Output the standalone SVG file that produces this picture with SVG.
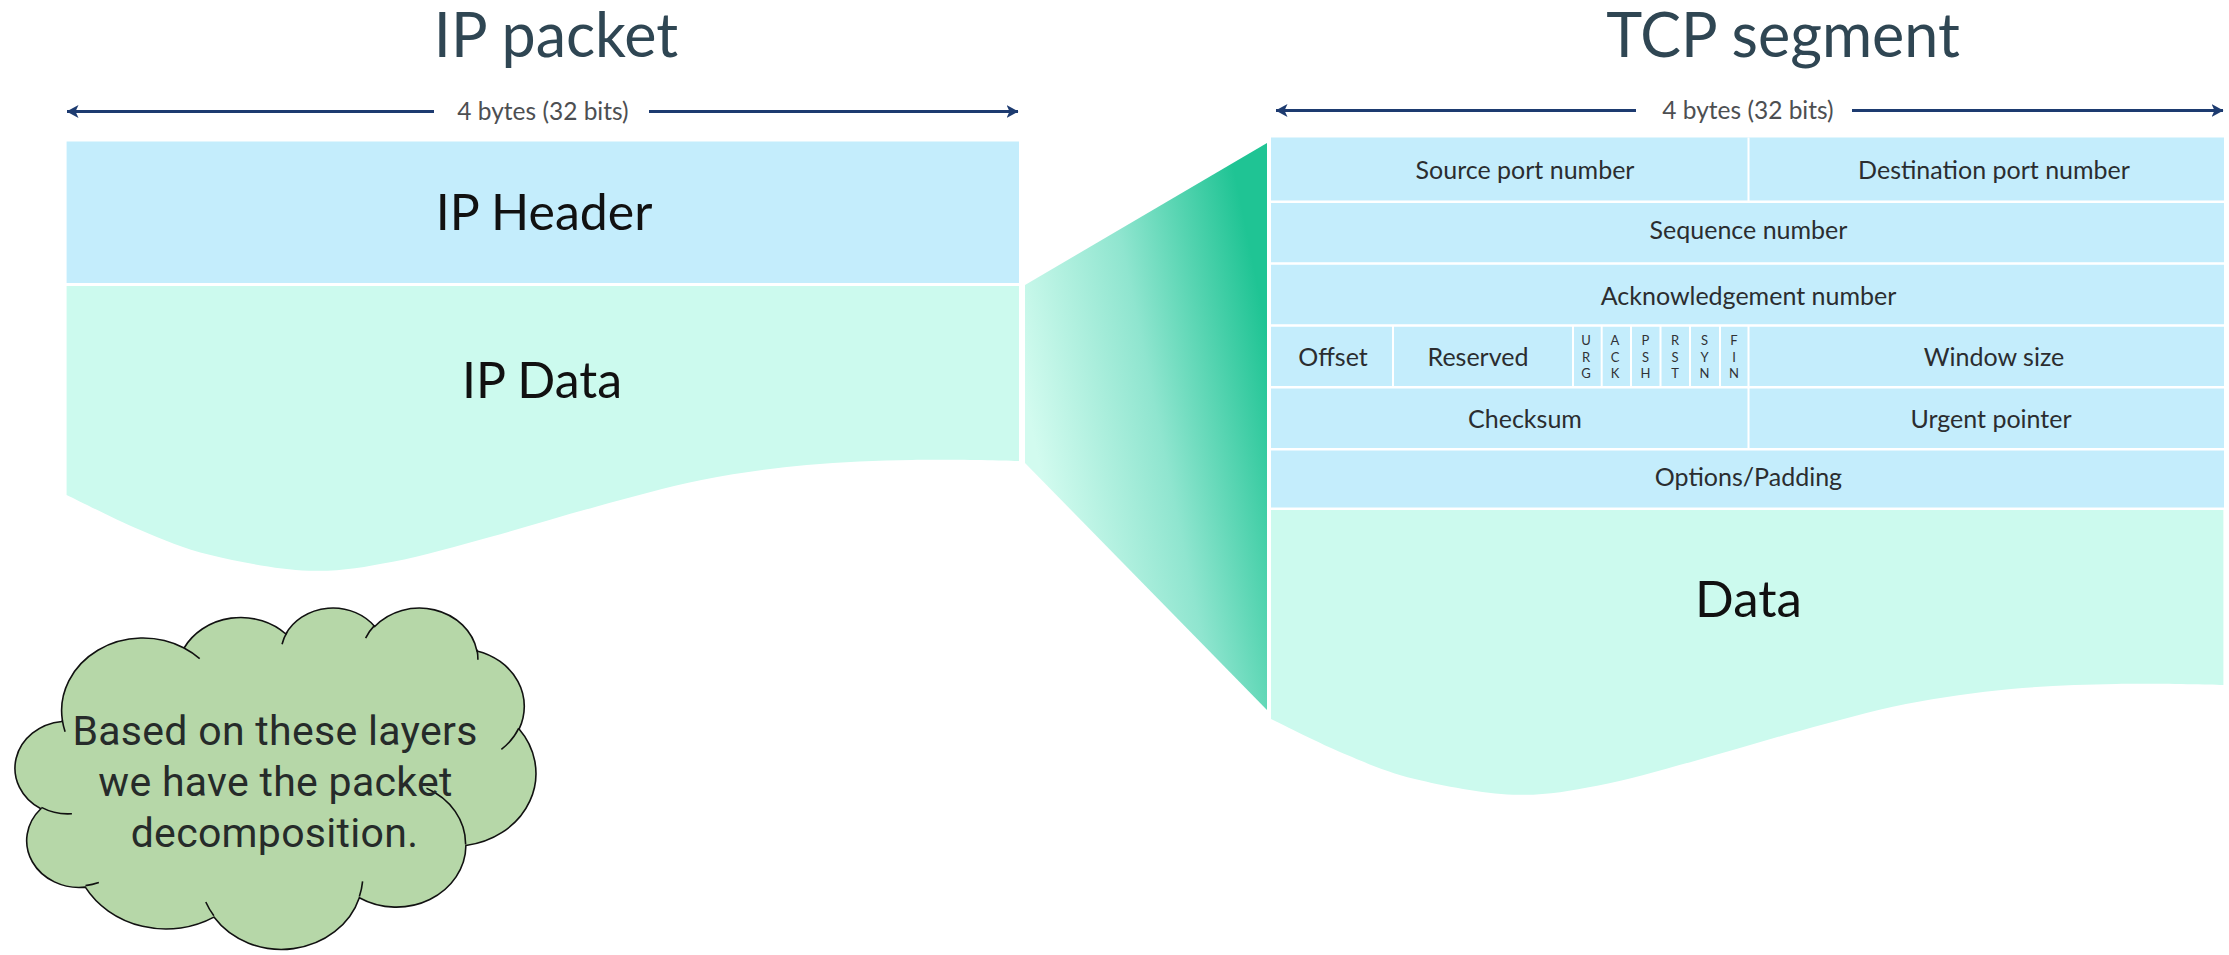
<svg xmlns="http://www.w3.org/2000/svg" width="2229" height="955" viewBox="0 0 2229 955">
  <defs>
    <style>
      .title { font-family: Lato, "Liberation Sans", sans-serif; font-size: 61px; fill: #2f4653; text-anchor: middle; }
      .dim { font-family: Lato, "Liberation Sans", sans-serif; font-size: 24.5px; fill: #4d4f52; text-anchor: middle; }
      .big { font-family: Lato, "Liberation Sans", sans-serif; font-size: 50px; fill: #111111; text-anchor: middle; }
      .field { font-family: Lato, "Liberation Sans", sans-serif; font-size: 25px; fill: #2b2d30; text-anchor: middle; }
      .flag { font-family: Lato, "Liberation Sans", sans-serif; font-size: 13px; fill: #303236; text-anchor: middle; }
      .note { font-family: Roboto, "Liberation Sans", sans-serif; font-size: 41px; letter-spacing: 0.3px; fill: #262b2a; text-anchor: middle; }
      .hdr { fill: #c4edfc; }
      .dat { fill: #ccfaee; }
      .sep { stroke: #ffffff; stroke-width: 2.5; fill: none; }
      .vsep { stroke: #ffffff; stroke-width: 2; fill: none; }
      .dimline { stroke: #1d3b70; stroke-width: 3; fill: none; }
    </style>
    <marker id="head" viewBox="0 0 12 13" refX="11.5" refY="6.5" markerWidth="12" markerHeight="13" markerUnits="userSpaceOnUse" orient="auto-start-reverse">
      <path d="M0,0 L12,6.5 L0,13 L3,6.5 Z" fill="#1d3b70"/>
    </marker>
    <linearGradient id="funnelFill" gradientUnits="userSpaceOnUse" x1="1030" y1="420" x2="1275" y2="370">
      <stop offset="0" stop-color="#d2fbef"/>
      <stop offset="0.5" stop-color="#8fe5cf"/>
      <stop offset="1" stop-color="#1fc494"/>
    </linearGradient>
    <!-- payload block with a torn, wavy lower edge (IP packet coordinates) -->
    <path id="wave" d="M66.6,286 L1019,286 L1019,461 C1001.2,460.8 947.4,459.3 912,460 C876.6,460.7 841.8,461.7 806.7,465 C771.6,468.3 736.6,473.05 701.5,480 C666.4,486.95 631.1,497.25 596,506.7 C560.9,516.15 524.9,527.53 491,536.7 C457.1,545.87 423.2,556.03 392.8,561.7 C362.4,567.37 339.1,571.8 308.7,570.7 C278.3,569.6 238.6,561.8 210.5,555 C182.4,548.2 164.3,540 140.3,530 C116.3,520 78.9,500.8 66.6,495 Z"/>
  </defs>

  <!-- titles -->
  <text class="title" x="556" y="57">IP packet</text>
  <text class="title" x="1783" y="57">TCP segment</text>

  <!-- width markers and the zoom funnel -->
  <g id="connectors">
    <line class="dimline" x1="67" y1="111.5" x2="434" y2="111.5" marker-start="url(#head)"/>
    <line class="dimline" x1="649" y1="111.5" x2="1018" y2="111.5" marker-end="url(#head)"/>
    <text class="dim" x="543" y="120">4 bytes (32 bits)</text>

    <line class="dimline" x1="1276" y1="110.5" x2="1636" y2="110.5" marker-start="url(#head)"/>
    <line class="dimline" x1="1852" y1="110.5" x2="2223" y2="110.5" marker-end="url(#head)"/>
    <text class="dim" x="1748" y="119">4 bytes (32 bits)</text>

    <path id="funnel" d="M1025,285 L1267,143 L1267,710 L1025,463 Z" fill="url(#funnelFill)"/>
  </g>

  <!-- IP packet -->
  <g id="ip-header">
    <rect class="hdr" x="66.6" y="141.5" width="952.4" height="141.5"/>
    <text class="big" x="544" y="230">IP Header</text>
  </g>
  <g id="ip-data">
    <use href="#wave" class="dat"/>
    <text class="big" x="542" y="398">IP Data</text>
  </g>

  <!-- TCP header -->
  <g id="tcp-header">
    <rect class="hdr" x="1271" y="137.5" width="953" height="370"/>
    <path class="sep" d="M1271,201.7 H2224 M1271,263.5 H2224 M1271,325.6 H2224 M1271,387.3 H2224 M1271,449.3 H2224"/>
    <path class="vsep" d="M1748.5,137.5 V201.7 M1748.5,387.3 V449.3 M1393,325.6 V387.3 M1573,325.6 V387.3 M1601.7,325.6 V387.3 M1631,325.6 V387.3 M1660.5,325.6 V387.3 M1690,325.6 V387.3 M1720,325.6 V387.3 M1748.5,325.6 V387.3"/>

    <text class="field" x="1525" y="179">Source port number</text>
    <text class="field" x="1994" y="179">Destination port number</text>
    <text class="field" x="1748.5" y="239">Sequence number</text>
    <text class="field" x="1748.5" y="305">Acknowledgement number</text>
    <text class="field" x="1333" y="366">Offset</text>
    <text class="field" x="1478" y="366">Reserved</text>
    <text class="field" x="1994" y="366">Window size</text>
    <text class="field" x="1525" y="428">Checksum</text>
    <text class="field" x="1991" y="428">Urgent pointer</text>
    <text class="field" x="1748.5" y="486">Options/Padding</text>

    <g class="flag">
      <text x="1586" y="344.5">U</text><text x="1586" y="361.5">R</text><text x="1586" y="378">G</text>
      <text x="1615" y="344.5">A</text><text x="1615" y="361.5">C</text><text x="1615" y="378">K</text>
      <text x="1645.5" y="344.5">P</text><text x="1645.5" y="361.5">S</text><text x="1645.5" y="378">H</text>
      <text x="1675" y="344.5">R</text><text x="1675" y="361.5">S</text><text x="1675" y="378">T</text>
      <text x="1704.5" y="344.5">S</text><text x="1704.5" y="361.5">Y</text><text x="1704.5" y="378">N</text>
      <text x="1734" y="344.5">F</text><text x="1734" y="361.5">I</text><text x="1734" y="378">N</text>
    </g>
  </g>

  <g id="tcp-data">
    <use href="#wave" class="dat" transform="translate(1204.4,224)"/>
    <text class="big" x="1748.5" y="617" style="font-size:51px">Data</text>
  </g>

  <!-- note cloud -->
  <g id="note">
    <g transform="matrix(0.012044 0 0 0.0079 15.4 606.9)">
      <path d="M3900 14370 A6753 9190 0 0 1 14005 5202 A5333 7267 0 0 1 22457 3430 A4365 5945 0 0 1 29835 2481 A4857 6595 0 0 1 38320 5576 A5333 7273 0 0 1 41820 15460 A6775 9220 0 0 1 37405 30200 A5785 7867 0 0 1 28556 36811 A6752 9215 0 0 1 16482 39264 A7720 10543 0 0 1 5805 35470 A4360 5918 0 0 1 2113 25550 A4345 5945 0 0 1 3863 14507 Z" fill="#b6d7a8" stroke="#111111" stroke-width="1.6" vector-effect="non-scaling-stroke"/>
      <path d="M4693 26177 A4345 5945 0 0 1 2159 25379 M6928 34899 A4360 5918 0 0 1 5820 35280 M16478 39090 A6752 9215 0 0 1 15809 37348 M28827 34751 A6752 9215 0 0 1 28560 36660 M34129 22954 A5785 7867 0 0 1 37381 30090 M41798 15354 A5333 7273 0 0 1 40350 18030 M38324 5426 A4857 6595 0 0 1 38400 6690 M29078 3952 A4857 6595 0 0 1 29820 2340 M22141 4720 A4365 5945 0 0 1 22555 3185 M14000 5192 A6753 9190 0 0 1 15300 6541 M4127 15789 A6753 9190 0 0 1 3900 14371" fill="none" stroke="#111111" stroke-width="1.6" vector-effect="non-scaling-stroke"/>
    </g>
    <text class="note" x="275" y="745">Based on these layers</text>
    <text class="note" x="275.5" y="796">we have the packet</text>
    <text class="note" x="274.5" y="847">decomposition.</text>
  </g>
</svg>
